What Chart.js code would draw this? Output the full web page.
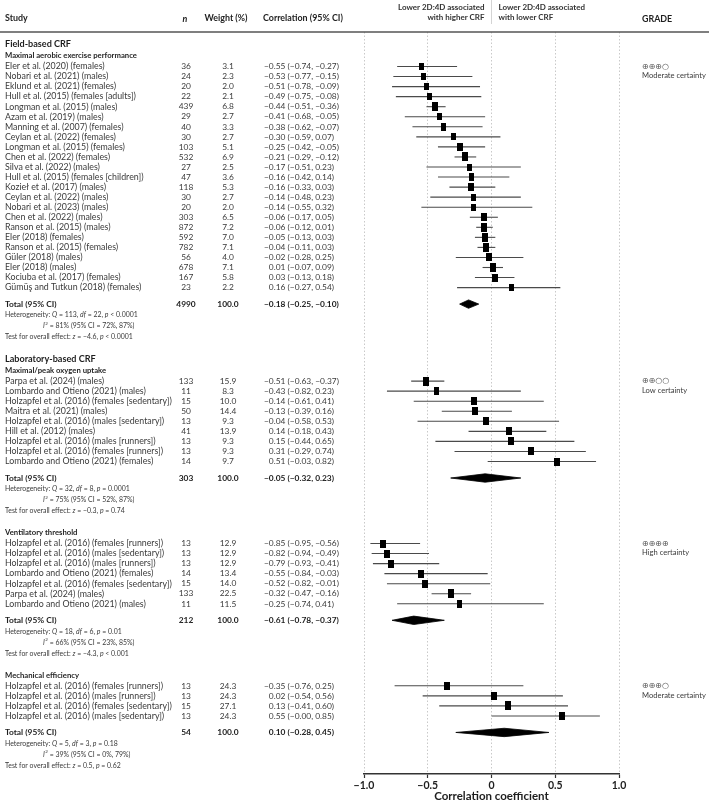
<!DOCTYPE html>
<html>
<head>
<meta charset="utf-8">
<script src="https://cdn.jsdelivr.net/npm/chart.js@4.4.1/dist/chart.umd.min.js"></script>
<style>
  html, body { margin: 0; padding: 0; background: #fff; }
  canvas { display: block; }
</style>
</head>
<body>
<canvas id="forest" width="709" height="803"></canvas>
<script>
// ---------- data ----------
const fieldStudies = [
  'Eler et al. (2020) (females)', 'Nobari et al. (2021) (males)', 'Eklund et al. (2021) (females)',
  'Hull et al. (2015) (females [adults])', 'Longman et al. (2015) (males)', 'Azam et al. (2019) (males)',
  'Manning et al. (2007) (females)', 'Ceylan et al. (2022) (females)', 'Longman et al. (2015) (females)',
  'Chen et al. (2022) (females)', 'Silva et al. (2022) (males)', 'Hull et al. (2015) (females [children])',
  'Kozieł et al. (2017) (males)', 'Ceylan et al. (2022) (males)', 'Nobari et al. (2023) (males)',
  'Chen et al. (2022) (males)', 'Ranson et al. (2015) (males)', 'Eler (2018) (females)',
  'Ranson et al. (2015) (females)', 'Güler (2018) (males)', 'Eler (2018) (males)',
  'Kociuba et al. (2017) (females)', 'Gümüş and Tutkun (2018) (females)'
];
const fieldN = [36, 24, 20, 22, 439, 29, 40, 30, 103, 532, 27, 47, 118, 30, 20, 303, 872, 592, 782, 56, 678, 167, 23];
const fieldWeight = [3.1, 2.3, 2.0, 2.1, 6.8, 2.7, 3.3, 2.7, 5.1, 6.9, 2.5, 3.6, 5.3, 2.7, 2.0, 6.5, 7.2, 7.0, 7.1, 4.0, 7.1, 5.8, 2.2];
const fieldR = [-0.55, -0.53, -0.51, -0.49, -0.44, -0.41, -0.38, -0.30, -0.25, -0.21, -0.17, -0.16, -0.16, -0.14, -0.14, -0.06, -0.06, -0.05, -0.04, -0.02, 0.01, 0.03, 0.16];
const fieldLo = [-0.74, -0.77, -0.78, -0.75, -0.51, -0.68, -0.62, -0.59, -0.42, -0.29, -0.51, -0.42, -0.33, -0.48, -0.55, -0.17, -0.12, -0.13, -0.11, -0.28, -0.07, -0.13, -0.27];
const fieldHi = [-0.27, -0.15, -0.09, -0.08, -0.36, -0.05, -0.07, 0.07, -0.05, -0.12, 0.23, 0.14, 0.03, 0.23, 0.32, 0.05, 0.01, 0.03, 0.03, 0.25, 0.09, 0.18, 0.54];

const labStudies = [
  'Parpa et al. (2024) (males)', 'Lombardo and Otieno (2021) (males)', 'Holzapfel et al. (2016) (females [sedentary])',
  'Maitra et al. (2021) (males)', 'Holzapfel et al. (2016) (males [sedentary])', 'Hill et al. (2012) (males)',
  'Holzapfel et al. (2016) (males [runners])', 'Holzapfel et al. (2016) (females [runners])', 'Lombardo and Otieno (2021) (females)'
];
const labN = [133, 11, 15, 50, 13, 41, 13, 13, 14];
const labWeight = [15.9, 8.3, 10.0, 14.4, 9.3, 13.9, 9.3, 9.3, 9.7];
const labR = [-0.51, -0.43, -0.14, -0.13, -0.04, 0.14, 0.15, 0.31, 0.51];
const labLo = [-0.63, -0.82, -0.61, -0.39, -0.58, -0.18, -0.44, -0.29, -0.03];
const labHi = [-0.37, 0.23, 0.41, 0.16, 0.53, 0.43, 0.65, 0.74, 0.82];

const ventStudies = [
  'Holzapfel et al. (2016) (females [runners])', 'Holzapfel et al. (2016) (males [sedentary])',
  'Holzapfel et al. (2016) (males [runners])', 'Lombardo and Otieno (2021) (females)',
  'Holzapfel et al. (2016) (females [sedentary])', 'Parpa et al. (2024) (males)', 'Lombardo and Otieno (2021) (males)'
];
const ventN = [13, 13, 13, 14, 15, 133, 11];
const ventWeight = [12.9, 12.9, 12.9, 13.4, 14.0, 22.5, 11.5];
const ventR = [-0.85, -0.82, -0.79, -0.55, -0.52, -0.32, -0.25];
const ventLo = [-0.95, -0.94, -0.93, -0.84, -0.82, -0.47, -0.74];
const ventHi = [-0.56, -0.49, -0.41, -0.03, -0.01, -0.16, 0.41];

const mechStudies = [
  'Holzapfel et al. (2016) (females [runners])', 'Holzapfel et al. (2016) (males [runners])',
  'Holzapfel et al. (2016) (females [sedentary])', 'Holzapfel et al. (2016) (males [sedentary])'
];
const mechN = [13, 13, 15, 13];
const mechWeight = [24.3, 24.3, 27.1, 24.3];
const mechR = [-0.35, 0.02, 0.13, 0.55];
const mechLo = [-0.76, -0.54, -0.41, -0.00];
const mechHi = [0.25, 0.56, 0.60, 0.85];

// pooled results per section: field, lab, ventilatory, mechanical
const majorHeadings = ['Field-based CRF', 'Laboratory-based CRF', null, null];
const subHeadings = ['Maximal aerobic exercise performance', 'Maximal/peak oxygen uptake', 'Ventilatory threshold', 'Mechanical efficiency'];
const totalN = [4990, 303, 212, 54];
const totalR = [-0.18, -0.05, -0.61, 0.10];
const totalLo = [-0.25, -0.32, -0.78, -0.28];
const totalHi = [-0.10, 0.23, -0.37, 0.45];
const hetQ = [113, 32, 18, 5];
const hetDf = [22, 8, 6, 3];
const hetP = ['< 0.0001', '= 0.0001', '= 0.01', '= 0.18'];
const i2 = [81, 75, 66, 39];
const i2Lo = [72, 52, 23, 0];
const i2Hi = [87, 87, 85, 79];
const zVal = ['−4.6', '−0.3', '−4.3', '0.5'];
const zP = ['< 0.0001', '= 0.74', '< 0.001', '= 0.62'];
const gradeSymbols = ['⊕⊕⊕○', '⊕⊕○○', '⊕⊕⊕⊕', '⊕⊕⊕○'];
const gradeText = ['Moderate certainty', 'Low certainty', 'High certainty', 'Moderate certainty'];

const xTicks = [-1, -0.5, 0, 0.5, 1];
const xTitle = 'Correlation coefficient';

// ---------- layout ----------
const sections = [
  { studies: fieldStudies, n: fieldN, w: fieldWeight, r: fieldR, lo: fieldLo, hi: fieldHi },
  { studies: labStudies, n: labN, w: labWeight, r: labR, lo: labLo, hi: labHi },
  { studies: ventStudies, n: ventN, w: ventWeight, r: ventR, lo: ventLo, hi: ventHi },
  { studies: mechStudies, n: mechN, w: mechWeight, r: mechR, lo: mechLo, hi: mechHi }
];

const ROW = 10.05;
let cursor = 44.5;
sections.forEach((s, k) => {
  if (majorHeadings[k]) { s.majorY = cursor; cursor += 11.5; }
  s.subY = cursor; cursor += 10.5;
  s.rowY = s.studies.map((_, i) => cursor + i * ROW);
  s.totalY = s.rowY[s.rowY.length - 1] + 16.5;
  s.hetY = s.totalY + 11;
  s.i2Y = s.totalY + 22;
  s.testY = s.totalY + 33;
  cursor = s.testY + 22;
});

const FONT = 'Lato, "Liberation Sans", sans-serif';
const TEXT = '#3a3a3a';
const DARK = '#1e1e1e';

function fmt(v) {
  const neg = v < 0 || Object.is(v, -0);
  return (neg ? '−' : '') + Math.abs(v).toFixed(2);
}
function ciText(r, lo, hi) {
  return fmt(r) + ' (' + fmt(lo) + ', ' + fmt(hi) + ')';
}

// font sizes fitted to widths measured on the reference
const mctx = document.createElement('canvas').getContext('2d');
function fit(str, weight, target) {
  mctx.font = weight + ' 10px ' + FONT;
  return +(10 * target / mctx.measureText(str).width).toFixed(2);
}
const bodySize = fit('−0.55 (−0.74, −0.27)', 'normal', 75);
const nameSize = fit('Hull et al. (2015) (females [adults])', 'normal', 131);
const smallSize = fit('Heterogeneity: Q = 113, df = 22, p < 0.0001', 'normal', 134);
const headSize = fit('Correlation (95% CI)', 'bold', 80);
const majorSize = fit('Field-based CRF', 'bold', 66);
const subSize = fit('Maximal aerobic exercise performance', 'bold', 132);
const gradeSize = fit('Moderate certainty', 'normal', 64);

// marker images: small filled rectangles scaled by weight within a section
function markerImage(rel) {
  const w = Math.round(4.5 + 1.8 * rel);
  const h = Math.round(6.5 + 2.2 * rel);
  const c = document.createElement('canvas');
  c.width = w; c.height = h;
  const g = c.getContext('2d');
  g.fillStyle = '#000';
  g.fillRect(0, 0, w, h);
  return c;
}

const datasets = [];
const markerData = [], markerStyles = [];
sections.forEach(s => {
  const maxW = Math.max(...s.w);
  s.r.forEach((r, i) => {
    markerData.push({ x: r, y: s.rowY[i] });
    markerStyles.push(markerImage(s.w[i] / maxW));
  });
});
datasets.push({
  label: 'studies', data: markerData, pointStyle: markerStyles,
  pointRadius: 4, showLine: false
});
sections.forEach((s, k) => {
  const y = s.totalY, h = 4.2;
  datasets.push({
    label: 'pooled ' + k,
    data: [
      { x: totalLo[k], y: y }, { x: totalR[k], y: y - h },
      { x: totalHi[k], y: y }, { x: totalR[k], y: y + h }, { x: totalLo[k], y: y }
    ],
    showLine: true, fill: 'shape', backgroundColor: '#000', borderColor: '#000',
    borderWidth: 0.8, pointRadius: 0, tension: 0
  });
  s.lo.forEach((lo, i) => {
    datasets.push({
      label: 'ci', data: [{ x: lo, y: s.rowY[i] }, { x: s.hi[i], y: s.rowY[i] }],
      showLine: true, borderColor: '#4a4a4a', borderWidth: 1.1, pointRadius: 0, fill: false
    });
  });
});

function drawRich(ctx, parts, x, y, size) {
  parts.forEach(p => {
    ctx.font = (p[1] ? 'italic ' : '') + size + 'px ' + FONT;
    ctx.fillText(p[0], x, y);
    x += ctx.measureText(p[0]).width;
  });
  return x;
}

const tablePlugin = {
  id: 'forestTable',
  afterDraw(chart) {
    const ctx = chart.ctx, ys = chart.scales.y, xs = chart.scales.x;
    const py = v => ys.getPixelForValue(v);
    const xZero = xs.getPixelForValue(0);
    const colStudy = 5, colN = 186, colW = 228, colCI = 264, colGrade = 642;
    ctx.save();
    ctx.textBaseline = 'middle';

    // header row
    ctx.fillStyle = DARK;
    ctx.textAlign = 'left';
    ctx.font = 'bold ' + headSize + 'px ' + FONT;
    ctx.fillText('Study', colStudy, 18);
    ctx.fillText('Correlation (95% CI)', colCI - 1, 18);
    ctx.fillText('GRADE', colGrade, 19);
    ctx.textAlign = 'center';
    ctx.fillText('Weight (%)', colW - 2, 18);
    ctx.font = 'italic bold ' + headSize + 'px ' + FONT;
    ctx.fillText('n', colN - 1, 19);

    ctx.font = 'bold ' + (bodySize * 0.95).toFixed(2) + 'px ' + FONT;
    ctx.fillStyle = '#333';
    ctx.textAlign = 'right';
    ctx.fillText('Lower 2D:4D associated', xZero - 7, 7);
    ctx.fillText('with higher CRF', xZero - 7, 17);
    ctx.textAlign = 'left';
    ctx.fillText('Lower 2D:4D associated', xZero + 7, 7);
    ctx.fillText('with lower CRF', xZero + 7, 17);
    ctx.strokeStyle = '#d4d4d4';
    ctx.lineWidth = 1;
    ctx.beginPath(); ctx.moveTo(xZero, 0); ctx.lineTo(xZero, 24); ctx.stroke();

    ctx.strokeStyle = '#555';
    ctx.lineWidth = 1.5;
    ctx.beginPath(); ctx.moveTo(0, 32); ctx.lineTo(709, 32); ctx.stroke();

    const minusW = (() => { ctx.font = bodySize + 'px ' + FONT; return ctx.measureText('−').width; })();

    sections.forEach((s, k) => {
      ctx.textAlign = 'left';
      ctx.fillStyle = DARK;
      if (majorHeadings[k]) {
        ctx.font = 'bold ' + majorSize + 'px ' + FONT;
        ctx.fillText(majorHeadings[k], colStudy, py(s.majorY));
      }
      ctx.font = 'bold ' + subSize + 'px ' + FONT;
      ctx.fillText(subHeadings[k], colStudy, py(s.subY));

      ctx.fillStyle = TEXT;
      s.studies.forEach((name, i) => {
        const y = py(s.rowY[i]);
        ctx.textAlign = 'left';
        ctx.font = nameSize + 'px ' + FONT;
        ctx.fillText(name, colStudy, y);
        ctx.font = bodySize + 'px ' + FONT;
        ctx.textAlign = 'center';
        ctx.fillText(String(s.n[i]), colN, y);
        ctx.fillText(s.w[i].toFixed(1), colW, y);
        ctx.textAlign = 'left';
        const t = ciText(s.r[i], s.lo[i], s.hi[i]);
        ctx.fillText(t, t[0] === '−' ? colCI : colCI + minusW, y);
      });

      // pooled row
      const ty = py(s.totalY);
      ctx.fillStyle = DARK;
      ctx.font = 'bold ' + bodySize + 'px ' + FONT;
      ctx.textAlign = 'left';
      ctx.fillText('Total (95% CI)', colStudy, ty);
      ctx.textAlign = 'center';
      ctx.fillText(String(totalN[k]), colN, ty);
      ctx.fillText('100.0', colW, ty);
      ctx.textAlign = 'left';
      const tt = ciText(totalR[k], totalLo[k], totalHi[k]);
      ctx.fillText(tt, tt[0] === '−' ? colCI : colCI + minusW, ty);

      ctx.fillStyle = TEXT;
      drawRich(ctx, [['Heterogeneity: ', 0], ['Q', 1], [' = ' + hetQ[k] + ', ', 0], ['df', 1],
        [' = ' + hetDf[k] + ', ', 0], ['p', 1], [' ' + hetP[k], 0]], colStudy, py(s.hetY), smallSize);
      // I² line
      let x = 43;
      ctx.font = 'italic ' + smallSize + 'px ' + FONT;
      ctx.fillText('I', x, py(s.i2Y));
      x += ctx.measureText('I').width;
      ctx.font = (smallSize * 0.65).toFixed(2) + 'px ' + FONT;
      ctx.fillText('2', x + 0.3, py(s.i2Y) - 2.5);
      x += ctx.measureText('2').width + 0.6;
      drawRich(ctx, [[' = ' + i2[k] + '% (95% CI = ' + i2Lo[k] + '%, ' + i2Hi[k] + '%)', 0]], x, py(s.i2Y), smallSize);
      drawRich(ctx, [['Test for overall effect: ', 0], ['z', 1], [' = ' + zVal[k] + ', ', 0], ['p', 1],
        [' ' + zP[k], 0]], colStudy, py(s.testY), smallSize);

      // GRADE
      ctx.fillStyle = '#555';
      ctx.font = (gradeSize * 1.05).toFixed(2) + 'px "DejaVu Sans", sans-serif';
      ctx.fillText(gradeSymbols[k], colGrade, py(s.rowY[0]));
      ctx.font = gradeSize + 'px ' + FONT;
      ctx.fillStyle = TEXT;
      ctx.fillText(gradeText[k], colGrade, py(s.rowY[0]) + 9.5);
    });
    ctx.restore();
  }
};

new Chart(document.getElementById('forest'), {
  type: 'scatter',
  data: { datasets: datasets },
  plugins: [tablePlugin],
  options: {
    responsive: false,
    animation: false,
    layout: { padding: { left: 364, right: 90, top: 32, bottom: 0 } },
    plugins: { legend: { display: false }, tooltip: { enabled: false } },
    scales: {
      x: {
        type: 'linear', min: -1, max: 1,
        afterBuildTicks: axis => { axis.ticks = xTicks.map(v => ({ value: v })); },
        afterFit: axis => { axis.height = 29; },
        ticks: {
          color: DARK, padding: 1,
          font: { family: FONT, size: 10.5, weight: 'bold' },
          callback: v => v === 0 ? '0' : (v < 0 ? '−' : '') + Math.abs(v).toFixed(1)
        },
        grid: { color: '#c9c9c9', lineWidth: 1, tickColor: '#333', tickLength: 4, tickWidth: 1.2 },
        border: { display: true, color: '#333', width: 1.6, dash: [1.5, 2] },
        title: { display: true, text: xTitle, color: DARK, padding: { top: 0, bottom: 0 },
          font: { family: FONT, size: 11.5, weight: 'bold' } }
      },
      y: { type: 'linear', min: 32, max: 774, reverse: true, display: false }
    }
  }
});
</script>
</body>
</html>
